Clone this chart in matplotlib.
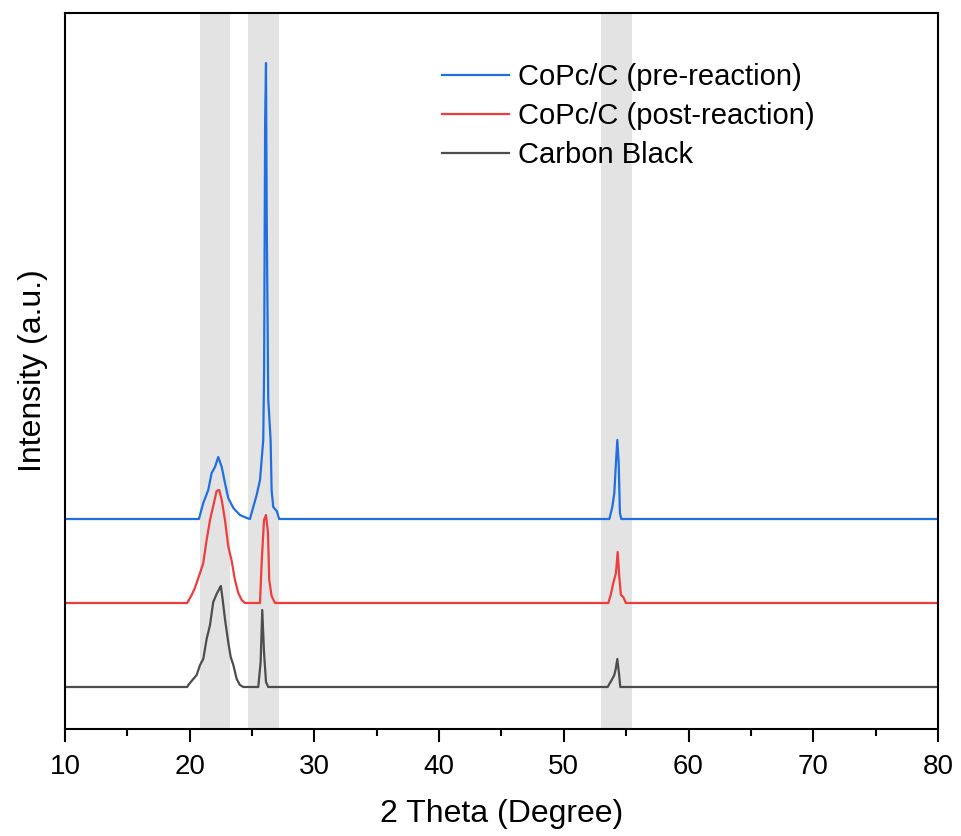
import numpy as np
import matplotlib.pyplot as plt

plt.rcParams['font.family'] = ['Liberation Sans', 'DejaVu Sans']

pre_x = [10, 20.74, 21.09, 21.49, 21.76, 22.03, 22.29, 22.57, 22.83, 23.09, 23.50,
         24.03, 24.57, 24.83, 25.10, 25.37, 25.64, 25.77, 25.90, 25.97, 26.05, 26.08,
         26.12, 26.18, 26.30, 26.49, 26.57, 26.70, 26.98, 27.18,
         53.65, 53.89, 54.05, 54.18, 54.29, 54.40, 54.50, 54.61, 80]
pre_y = [0, 0, 16, 29, 46, 52, 62, 52, 36, 21, 11,
         4, 1, 0, 12, 24, 39, 59, 79, 150, 396, 422,
         456, 300, 120, 79, 29, 12, 8, 0,
         0, 12, 26, 56, 79, 56, 6, 0, 0]

post_x = [10, 19.80, 19.89, 20.16, 20.42, 20.83, 21.09, 21.36, 21.63, 21.89, 22.16, 22.37,
          22.57, 22.83, 23.09, 23.37, 23.63, 23.90, 24.17, 24.43,
          25.64, 25.77, 25.96, 26.12, 26.28, 26.38, 26.57, 26.84,
          53.57, 53.76, 53.97, 54.18, 54.32, 54.45, 54.58, 54.77, 54.98, 80]
post_y = [0, 0, 2, 8, 15, 30, 40, 63, 83, 97, 112, 113,
          103, 83, 57, 42, 23, 10, 3, 0,
          0, 40, 83, 88, 70, 23, 7, 0,
          0, 8, 20, 30, 51, 26, 8, 6, 0, 0]

cb_x = [10, 19.80, 19.89, 20.29, 20.56, 20.83, 21.09, 21.36, 21.63, 21.89, 22.16, 22.37,
        22.50, 22.64, 22.83, 23.09, 23.29, 23.50, 23.77, 24.03, 24.30,
        25.50, 25.69, 25.82, 25.96, 26.12, 26.30,
        53.52, 53.65, 53.84, 54.05, 54.18, 54.29, 54.42, 54.53, 80]
cb_y = [0, 0, 2, 8, 12, 22, 28, 48, 62, 85, 93, 98,
        101, 88, 68, 45, 30, 22, 8, 2, 0,
        0, 25, 77, 35, 5, 0,
        0, 3, 7, 12, 19, 28, 14, 0, 0]

labels = ['CoPc/C (pre-reaction)', 'CoPc/C (post-reaction)', 'Carbon Black']
offsets = [210, 126, 42]
colors = ['#1f6fe0', '#f03c3c', '#4d4d4d']
bands = [(20.83, 23.23), (24.7, 27.2), (53.0, 55.5)]

fig = plt.figure(figsize=(9.61, 8.36), dpi=100)
ax = fig.add_axes([0.0676, 0.128, 0.9084, 0.8564])

for lo, hi in bands:
    ax.axvspan(lo, hi, color='#e3e3e3', lw=0, zorder=0)

traces = [(pre_x, pre_y), (post_x, post_y), (cb_x, cb_y)]
for (xs, ys), off, c, lab in zip(traces, offsets, colors, labels):
    ax.plot(xs, np.array(ys) + off, color=c, lw=1.6, label=lab, zorder=2)

ax.set_xlim(10, 80)
ax.set_ylim(0, 716)
ax.set_xticks(np.arange(10, 81, 10))
ax.set_xticks(np.arange(15, 80, 10), minor=True)
ax.set_yticks([])
ax.tick_params(axis='x', which='major', direction='out', length=9, width=1.5,
               labelsize=20, pad=9)
ax.tick_params(axis='x', which='minor', direction='out', length=5, width=1.5)
for s in ax.spines.values():
    s.set_linewidth(1.5)

ax.set_xlabel('2 Theta (Degree)', fontsize=23, labelpad=14)
ax.set_ylabel('Intensity (a.u.)', fontsize=23, labelpad=12)

ax.legend(loc='upper left', bbox_to_anchor=(0.432, 0.93), frameon=False,
          fontsize=21, handlelength=2.3, handletextpad=0.3, labelspacing=0.37,
          borderpad=0, borderaxespad=0)

fig.savefig('out.png', dpi=100)
